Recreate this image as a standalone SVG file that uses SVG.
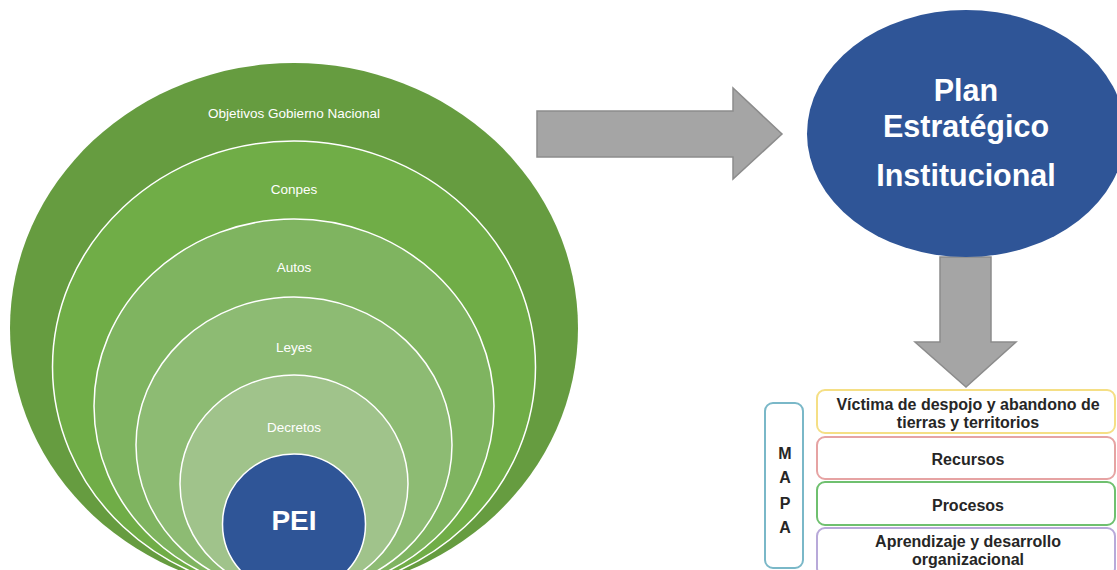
<svg xmlns="http://www.w3.org/2000/svg" width="1117" height="570" viewBox="0 0 1117 570">
<style>
.ring{stroke:#ffffff;stroke-width:1.5}
.lbl{font-family:"Liberation Sans",Arial,sans-serif;font-size:13.5px;fill:#ffffff;text-anchor:middle}
.big{font-family:"Liberation Sans",Arial,sans-serif;font-weight:bold;fill:#ffffff;text-anchor:middle}
.arrow{fill:#a5a5a5;stroke:#8c8c8c;stroke-width:1.5}
.box{fill:#ffffff;stroke-width:2}
.bt{font-family:"Liberation Sans",Arial,sans-serif;font-weight:bold;font-size:16px;fill:#262626;text-anchor:middle}
</style>
<rect width="1117" height="570" fill="#ffffff"/>
<g id="objetivos">
<ellipse cx="294" cy="328" rx="284" ry="265" fill="#669c40"/>
<text class="lbl" x="294" y="118">Objetivos Gobierno Nacional</text>
</g>
<g id="conpes">
<ellipse class="ring" cx="294" cy="367" rx="241.5" ry="226" fill="#70ad47"/>
<text class="lbl" x="294" y="194">Conpes</text>
</g>
<g id="autos">
<ellipse class="ring" cx="294" cy="406" rx="200" ry="187" fill="#7fb460"/>
<text class="lbl" x="294" y="272">Autos</text>
</g>
<g id="leyes">
<ellipse class="ring" cx="294" cy="445" rx="158" ry="148" fill="#8dbb73"/>
<text class="lbl" x="294" y="352">Leyes</text>
</g>
<g id="decretos">
<ellipse class="ring" cx="294" cy="484" rx="114" ry="109" fill="#a0c38b"/>
<text class="lbl" x="294" y="432">Decretos</text>
</g>
<g id="pei">
<ellipse class="ring" cx="294" cy="524" rx="71.5" ry="70" fill="#2f5597"/>
<text class="big" x="294" y="530" font-size="28">PEI</text>
</g>
<g id="connectors">
<path class="arrow" d="M537,111 L733,111 L733,88 L782,134 L733,179 L733,157 L537,157 Z"/>
<path class="arrow" d="M940,257 L991,257 L991,342 L1016,342 L966,387 L915,342 L940,342 Z"/>
</g>
<g id="plan">
<ellipse cx="966" cy="133.5" rx="159" ry="123.5" fill="#2f5597"/>
<text class="big" font-size="30.5" x="966" y="101">Plan</text>
<text class="big" font-size="30.5" x="966" y="137">Estratégico</text>
<text class="big" font-size="30.5" x="966" y="186">Institucional</text>
</g>
<g id="mapa">
<rect class="box" x="765" y="403" width="38" height="165" rx="8" stroke="#7ab8c8"/>
<text class="bt" font-size="19" x="785" y="459">M</text>
<text class="bt" font-size="19" x="785" y="483">A</text>
<text class="bt" font-size="19" x="785" y="509">P</text>
<text class="bt" font-size="19" x="785" y="533">A</text>
</g>
<g id="victima">
<rect class="box" x="817" y="390" width="298" height="43" rx="8" stroke="#f5df85"/>
<text class="bt" x="968" y="410">Víctima de despojo y abandono de</text>
<text class="bt" x="968" y="428">tierras y territorios</text>
</g>
<g id="recursos">
<rect class="box" x="817" y="437" width="298" height="42" rx="8" stroke="#e6a3a3"/>
<text class="bt" x="968" y="465">Recursos</text>
</g>
<g id="procesos">
<rect class="box" x="817" y="482" width="298" height="43" rx="8" stroke="#6fc06f"/>
<text class="bt" x="968" y="511">Procesos</text>
</g>
<g id="aprendizaje">
<rect class="box" x="817" y="528" width="298" height="48" rx="8" stroke="#b8a9d9"/>
<text class="bt" x="968" y="547">Aprendizaje y desarrollo</text>
<text class="bt" x="968" y="565">organizacional</text>
</g>
</svg>
